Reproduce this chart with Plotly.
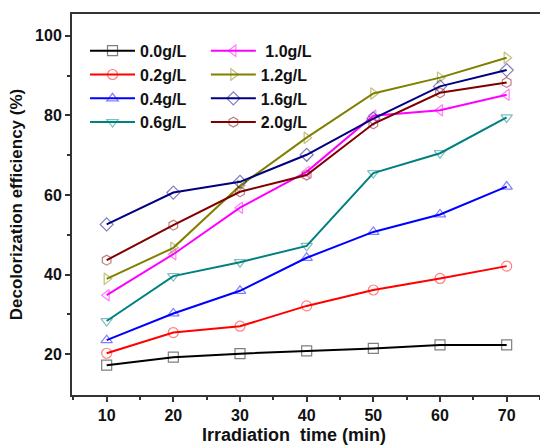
import plotly.graph_objects as go

time_min = [10, 20, 30, 40, 50, 60, 70]
labels = ["0.0g/L", "0.2g/L", "0.4g/L", "0.6g/L", " 1.0g/L", "1.2g/L", "1.6g/L", "2.0g/L"]
c00 = [17.2, 19.2, 20.1, 20.8, 21.4, 22.3, 22.3]
c02 = [20.2, 25.4, 27.0, 32.1, 36.1, 39.0, 42.1]
c04 = [23.5, 30.2, 35.9, 44.2, 50.7, 55.1, 62.1]
c06 = [28.3, 39.6, 43.1, 47.2, 65.5, 70.5, 79.5]
c10 = [34.8, 45.1, 56.8, 65.8, 79.9, 81.3, 85.2]
c12 = [38.9, 46.7, 62.3, 74.4, 85.5, 89.5, 94.5]
c16 = [52.6, 60.6, 63.3, 70.1, 79.2, 87.3, 91.4]
c20 = [43.6, 52.4, 60.8, 65.0, 77.9, 85.7, 88.3]
series = [c00, c02, c04, c06, c10, c12, c16, c20]

colors = ["#000000", "#FF0000", "#0000FF", "#008080", "#FF00FF", "#808000", "#000080", "#800000"]
symbols = ["square-open", "circle-open", "triangle-up-open", "triangle-down-open",
           "triangle-left-open", "triangle-right-open", "diamond-open", "hexagon-open"]

font_family = "Liberation Sans, Arial, sans-serif"

fig = go.Figure()
for i, (lab, vals) in enumerate(zip(labels, series)):
    fig.add_trace(go.Scatter(
        x=time_min, y=vals, name=lab, mode="lines+markers",
        line=dict(color=colors[i], width=2),
        marker=dict(symbol=symbols[i], size=10, color=colors[i], opacity=0.5,
                    line=dict(width=1.2)),
        legend="legend" if i < 4 else "legend2",
    ))

legend_common = dict(
    font=dict(family=font_family, size=16, color="#111111", weight="bold"),
    bgcolor="rgba(0,0,0,0)", borderwidth=0, itemwidth=45,
    xanchor="left", yanchor="top", y=0.948,
)

fig.update_layout(
    width=540, height=445,
    margin=dict(l=72, r=0, t=14, b=50),
    paper_bgcolor="white", plot_bgcolor="white",
    font=dict(family=font_family, size=15, color="#111111", weight="bold"),
    showlegend=True,
    legend=dict(x=0.0278, **legend_common),
    legend2=dict(x=0.286, **legend_common),
    xaxis=dict(
        range=[4.8, 75], tickmode="array", tickvals=time_min,
        ticks="outside", ticklen=5, tickwidth=1.5, tickcolor="#333",
        minor=dict(tickvals=[5, 15, 25, 35, 45, 55, 65, 75], ticks="outside", ticklen=3, tickcolor="#333"),
        showline=True, linecolor="#333", linewidth=2, mirror=True,
        showgrid=False, zeroline=False,
        automargin=False,
        tickfont=dict(size=16, weight="bold"),
    ),
    yaxis=dict(
        range=[9.7, 105.5], tickmode="array", tickvals=[20, 40, 60, 80, 100],
        ticks="outside", ticklen=5, tickwidth=1.5, tickcolor="#333",
        minor=dict(tickvals=[30, 50, 70, 90], ticks="outside", ticklen=3, tickcolor="#333"),
        showline=True, linecolor="#333", linewidth=2, mirror=True,
        showgrid=False, zeroline=False,
        title=dict(text="Decolorization efficiency (%)", standoff=8,
                   font=dict(size=17, weight="bold")),
        automargin=False,
        tickfont=dict(size=16, weight="bold"),
    ),
    annotations=[dict(
        text="Irradiation  time (min)", xref="paper", yref="paper",
        x=0.474, y=-0.104, xanchor="center", yanchor="middle", showarrow=False,
        font=dict(family=font_family, size=18, color="#111111", weight="bold"),
    )],
)

fig.write_html("out.html", config={"displayModeBar": False},
               post_script="document.body.style.margin='0';")
